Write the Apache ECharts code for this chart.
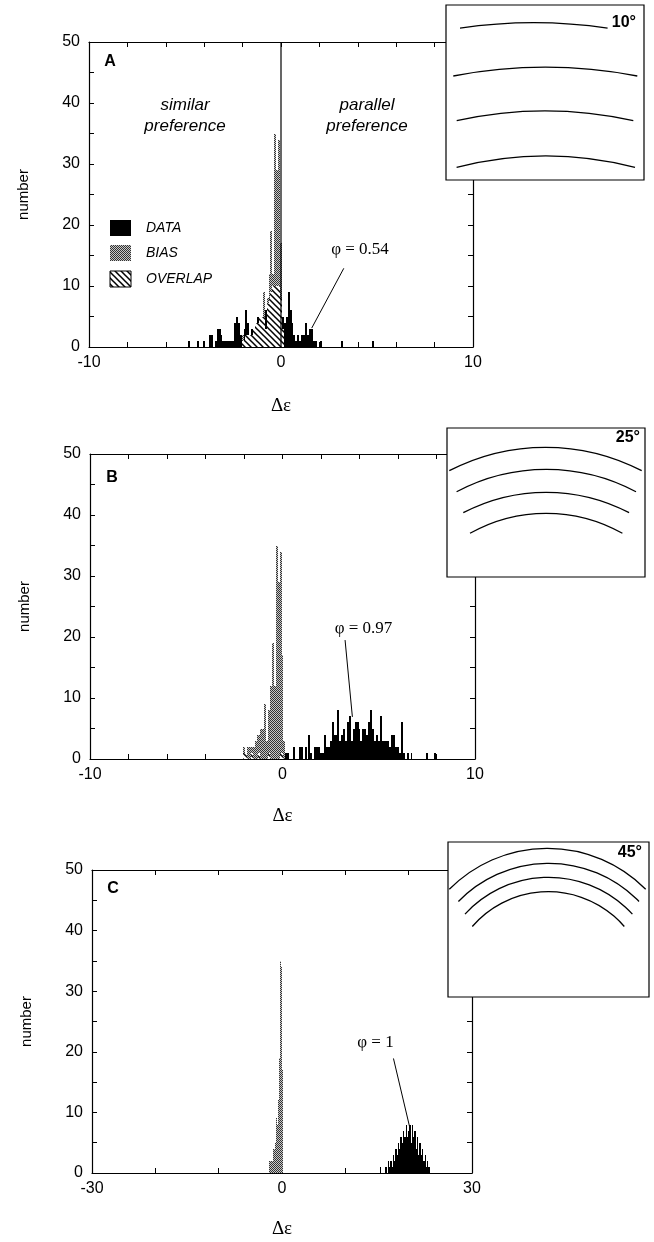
<!DOCTYPE html>
<html>
<head>
<meta charset="utf-8">
<script src="https://cdn.jsdelivr.net/npm/echarts@6/dist/echarts.min.js"></script>
<style>html,body{margin:0;padding:0;background:#fff}#c{width:654px;height:1242px}</style>
</head>
<body>
<div id="c"></div>
<script>
// ---------------- data ----------------
const BIN_AB = 0.1;   // histogram bin width, panels A and B (and bias)
const BIN_C = 0.2;    // histogram bin width, panel C data

// BIAS histogram (same in all three panels): [Δε bin centre, number]
const biasCounts = [
  [-2.0,2],[-1.9,1],[-1.8,2],[-1.7,2],[-1.6,2],[-1.5,2],[-1.4,3],[-1.3,4],[-1.2,4],
  [-1.1,5],[-1.0,5],[-0.9,9],[-0.8,3],[-0.7,8],[-0.6,12],[-0.5,19],[-0.4,12],
  [-0.3,35],[-0.2,29],[-0.1,34],[0.0,17],[0.1,3]
];

// DATA histogram, panel A (10°)
const dataA = [
  [-4.8,1],[-4.3,1],[-4.0,1],[-3.7,2],[-3.6,2],[-3.4,1],[-3.3,3],[-3.2,3],[-3.1,2],
  [-3.0,1],[-2.9,1],[-2.8,1],[-2.7,1],[-2.6,1],[-2.5,1],[-2.4,4],[-2.3,5],[-2.2,4],
  [-2.1,2],[-2.0,1],[-1.9,3],[-1.8,6],[-1.7,4],[-1.6,2],[-1.5,3],[-1.4,3],[-1.3,4],
  [-1.2,5],[-1.1,5],[-1.0,5],[-0.9,5],[-0.8,6],[-0.7,7],[-0.6,8],[-0.5,9],[-0.4,10],
  [-0.3,10],[-0.2,10],[-0.1,10],[0.0,8],[0.1,5],[0.2,4],[0.3,5],[0.4,9],[0.5,6],
  [0.6,4],[0.7,2],[0.8,1],[0.9,2],[1.0,1],[1.1,2],[1.2,2],[1.3,4],[1.4,2],[1.5,3],
  [1.6,3],[1.7,1],[1.8,1],[2.1,1],[3.2,1],[4.8,1]
];

// DATA histogram, panel B (25°)
const dataB = [
  [-2.0,1],[-1.9,1],[-1.6,1],[-1.2,1],[-0.7,1],[-0.1,1],[0.0,1],
  [0.2,1],[0.3,1],[0.6,2],[0.9,2],[1.0,2],[1.2,2],[1.4,4],[1.5,1],[1.7,2],[1.8,2],
  [1.9,2],[2.0,1],[2.1,1],[2.2,4],[2.3,2],[2.4,2],[2.5,3],[2.6,6],[2.7,4],[2.8,4],
  [2.9,8],[3.0,3],[3.1,4],[3.2,5],[3.3,3],[3.4,6],[3.5,7],[3.6,3],[3.7,5],[3.8,6],
  [3.9,6],[4.0,5],[4.1,3],[4.2,5],[4.3,5],[4.4,4],[4.5,6],[4.6,8],[4.7,5],[4.8,3],
  [4.9,4],[5.0,3],[5.1,7],[5.2,3],[5.3,3],[5.4,3],[5.5,3],[5.6,2],[5.7,4],[5.8,4],
  [5.9,2],[6.0,2],[6.1,1],[6.2,6],[6.3,1],[6.5,1],[6.7,1],[7.5,1],[7.9,1]
];

// DATA histogram, panel C (45°)
const dataC = [
  [15.6,1],[16.4,1],[16.8,2],[17.0,1],[17.2,2],[17.4,1],[17.6,3],[17.8,2],[18.0,4],
  [18.2,3],[18.4,5],[18.6,4],[18.8,6],[19.0,5],[19.2,7],[19.4,6],[19.6,8],[19.8,6],
  [20.0,7],[20.2,8],[20.4,5],[20.6,8],[20.8,6],[21.0,7],[21.2,4],[21.4,6],[21.6,3],
  [21.8,5],[22.0,3],[22.2,4],[22.4,2],[22.6,3],[22.8,1],[23.0,2],[23.2,1]
];

// labelled x ticks and y ticks
const xLabelsAB = [-10, 0, 10];
const xLabelsC = [-30, 0, 30];
const yLabels = [0, 10, 20, 30, 40, 50];

// annotation leader lines (data coordinates: [Δε, number])
const leaderA = [[3.27,12.9],[1.6,3.1]];
const leaderB = [[3.25,19.5],[3.63,6.9]];
const leaderC = [[17.6,18.9],[20.2,7.4]];
const zeroLineA = [[0,0],[0,50]];

const panelLetters = ['A','B','C'];
const phiTexts = ['φ = 0.54','φ = 0.97','φ = 1'];
const insetAngles = ['10°','25°','45°'];
const legendNames = ['DATA','BIAS','OVERLAP'];
const regionTexts = ['similar\npreference','parallel\npreference'];

// ---------------- patterns ----------------
function makeHatch(){
  const s=6,c=document.createElement('canvas');c.width=c.height=s;
  const g=c.getContext('2d');g.fillStyle='#fff';g.fillRect(0,0,s,s);
  g.strokeStyle='#000';g.lineWidth=1.5;g.beginPath();
  g.moveTo(-1,-1);g.lineTo(s+1,s+1);
  g.moveTo(-1,s-1);g.lineTo(1,s+1);
  g.moveTo(s-1,-1);g.lineTo(s+1,1);
  g.stroke();return c;
}
function makeStipple(){
  const c=document.createElement('canvas');c.width=c.height=2;
  const g=c.getContext('2d');g.fillStyle='#c8c8c8';g.fillRect(0,0,2,2);
  g.fillStyle='#333';g.fillRect(0,0,1,1);g.fillRect(1,1,1,1);return c;
}
const hatchFill={image:makeHatch(),repeat:'repeat'};
const stippleFill={image:makeStipple(),repeat:'repeat'};

// ---------------- build records ----------------
function buildRecords(data, dataBin){
  const map=new Map();const key=x=>Math.round(x*100);
  biasCounts.forEach(([x,b])=>map.set(key(x),{x,d:0,b,w:BIN_AB}));
  data.forEach(([x,d])=>{
    const k=key(x);
    if(map.has(k)&&dataBin===BIN_AB){map.get(k).d=d;}
    else map.set(k,{x,d,b:0,w:dataBin});
  });
  return [...map.values()].map(r=>[r.x,r.d,r.b,r.w]);
}

function renderHist(params, api){
  const x=api.value(0),d=api.value(1),b=api.value(2),w=api.value(3);
  const pL=api.coord([x-w/2,0]),pR=api.coord([x+w/2,0]);
  let left=Math.round(pL[0]),right=Math.round(pR[0]);
  if(right-left<1){right=left+1;}
  const width=right-left;
  const y0=Math.round(pL[1]);const yAt=v=>Math.round(api.coord([x,v])[1]);
  const ch=[];const ov=Math.min(d,b);
  if(ov>0)ch.push({type:'rect',shape:{x:left,y:yAt(ov),width,height:y0-yAt(ov)},style:{fill:hatchFill}});
  if(d>b)ch.push({type:'rect',shape:{x:left,y:yAt(d),width,height:yAt(b)-yAt(d)},style:{fill:'#000'}});
  if(b>d)ch.push({type:'rect',shape:{x:left,y:yAt(b),width,height:yAt(d)-yAt(b)},style:{fill:stippleFill}});
  return {type:'group',children:ch};
}

// ---------------- layout ----------------
const SANS="'Liberation Sans', Arial, Helvetica, sans-serif";
const SERIF="'Liberation Serif', 'Times New Roman', serif";
const panels=[
  {grid:{left:89,top:42,width:384,height:305},xmin:-10,xmax:10,xint:2,labels:xLabelsAB,data:dataA,bin:BIN_AB,leader:leaderA,nameGap:50},
  {grid:{left:90,top:454,width:385,height:305},xmin:-10,xmax:10,xint:2,labels:xLabelsAB,data:dataB,bin:BIN_AB,leader:leaderB,nameGap:48},
  {grid:{left:92,top:870,width:380,height:303},xmin:-30,xmax:30,xint:10,labels:xLabelsC,data:dataC,bin:BIN_C,leader:leaderC,nameGap:47}
];

const axisLine={show:true,onZero:false,lineStyle:{color:'#000',width:1.2}};
const axisTick={show:true,inside:true,length:5,lineStyle:{color:'#000',width:1}};
const grid=[],xAxis=[],yAxis=[],series=[];
panels.forEach((p,i)=>{
  grid.push(Object.assign({containLabel:false},p.grid));
  xAxis.push({type:'value',gridIndex:i,min:p.xmin,max:p.xmax,interval:p.xint,position:'bottom',
    axisLine,axisTick,splitLine:{show:false},
    axisLabel:{show:true,margin:8,color:'#000',fontSize:16,fontFamily:SANS,
      formatter:v=>p.labels.indexOf(v)>=0?String(v):''},
    name:'Δε',nameLocation:'middle',nameGap:p.nameGap,
    nameTextStyle:{color:'#000',fontSize:19,fontFamily:SERIF}});
  xAxis.push({type:'value',gridIndex:i,min:p.xmin,max:p.xmax,interval:p.xint,position:'top',
    axisLine,axisTick,splitLine:{show:false},axisLabel:{show:false}});
  yAxis.push({type:'value',gridIndex:i,min:0,max:50,interval:5,position:'left',
    axisLine,axisTick,splitLine:{show:false},
    axisLabel:{show:true,margin:9,color:'#000',fontSize:16,fontFamily:SANS,
      formatter:v=>yLabels.indexOf(v)>=0?String(v):''},
    name:'number',nameLocation:'middle',nameGap:58,
    nameTextStyle:{color:'#000',fontSize:15,fontFamily:SANS}});
  yAxis.push({type:'value',gridIndex:i,min:0,max:50,interval:5,position:'right',
    axisLine,axisTick,splitLine:{show:false},axisLabel:{show:false}});
  series.push({type:'custom',xAxisIndex:2*i,yAxisIndex:2*i,renderItem:renderHist,
    data:buildRecords(p.data,p.bin),z:3,silent:true});
  series.push({type:'line',xAxisIndex:2*i,yAxisIndex:2*i,data:p.leader,symbol:'none',
    lineStyle:{color:'#000',width:1},z:4,silent:true});
});
series.push({type:'line',xAxisIndex:0,yAxisIndex:0,data:zeroLineA,symbol:'none',
  lineStyle:{color:'#000',width:1.2},z:4,silent:true});

// ---------------- graphic: letters, texts, legend, insets ----------------
const G=[];
function txt(t,x,y,font,align,valign,extra){
  G.push({type:'text',x,y,z:60,style:Object.assign({text:t,font,fill:'#000',
    textAlign:align,align:align,textVerticalAlign:valign,verticalAlign:valign},extra||{})});
}
[[110,62],[112,478],[113,889]].forEach((pos,i)=>txt(panelLetters[i],pos[0],pos[1],'bold 16px '+SANS,'center','middle'));
txt(regionTexts[0],185,116,'italic 17px '+SANS,'center','middle',{lineHeight:21});
txt(regionTexts[1],367,116,'italic 17px '+SANS,'center','middle',{lineHeight:21});
[[360,250],[363.5,629],[375.5,1043]].forEach((pos,i)=>txt(phiTexts[i],pos[0],pos[1],'17px '+SERIF,'center','middle'));

// legend (panel A)
const legendFills=['#000',stippleFill,hatchFill];
[228,253,279].forEach((yc,i)=>{
  G.push({type:'rect',z:60,shape:{x:110,y:yc-8,width:21,height:16},
    style:{fill:legendFills[i],stroke:i===2?'#000':null,lineWidth:1}});
  txt(legendNames[i],146,yc,'italic 14px '+SANS,'left','middle');
});

// insets
const insets=[
  {box:[446,5,198,175],label:[636,23],arcs:[[533.8,22.7,73.8,5.5],[545.3,67.3,92,8.7],[545,111,88.3,9.7],[545.8,156,89.2,11.3]]},
  {box:[447,428,198,149],label:[640,438],arcs:[[545.5,447.3,96.2,23.4],[546.3,469.3,89.7,22.4],[546.2,492.3,82.9,20.4],[546.2,513.3,76.2,20]]},
  {box:[448,842,201,155],label:[642,853],arcs:[[547.5,848.3,98.2,41],[548.7,863.3,90.3,38.2],[548.7,877.3,83.7,36.8],[548.3,891.7,76,34.8]]}
];
insets.forEach((ins,i)=>{
  const [bx,by,bw,bh]=ins.box;
  G.push({type:'rect',z:50,shape:{x:bx,y:by,width:bw,height:bh},style:{fill:'#fff',stroke:'#000',lineWidth:1.2}});
  ins.arcs.forEach(([cx,top,w,s])=>{
    const r=(w*w+s*s)/(2*s),half=Math.asin(Math.min(1,w/r));
    G.push({type:'arc',z:55,shape:{cx,cy:top+r,r,startAngle:-Math.PI/2-half,endAngle:-Math.PI/2+half,clockwise:true},
      style:{fill:'none',stroke:'#000',lineWidth:1.3}});
  });
  txt(insetAngles[i],ins.label[0],ins.label[1],'bold 16px '+SANS,'right','middle');
});

const chart=echarts.init(document.getElementById('c'),null,{renderer:'canvas'});
chart.setOption({backgroundColor:'#fff',animation:false,grid,xAxis,yAxis,series,graphic:{elements:G}});
</script>
</body>
</html>
